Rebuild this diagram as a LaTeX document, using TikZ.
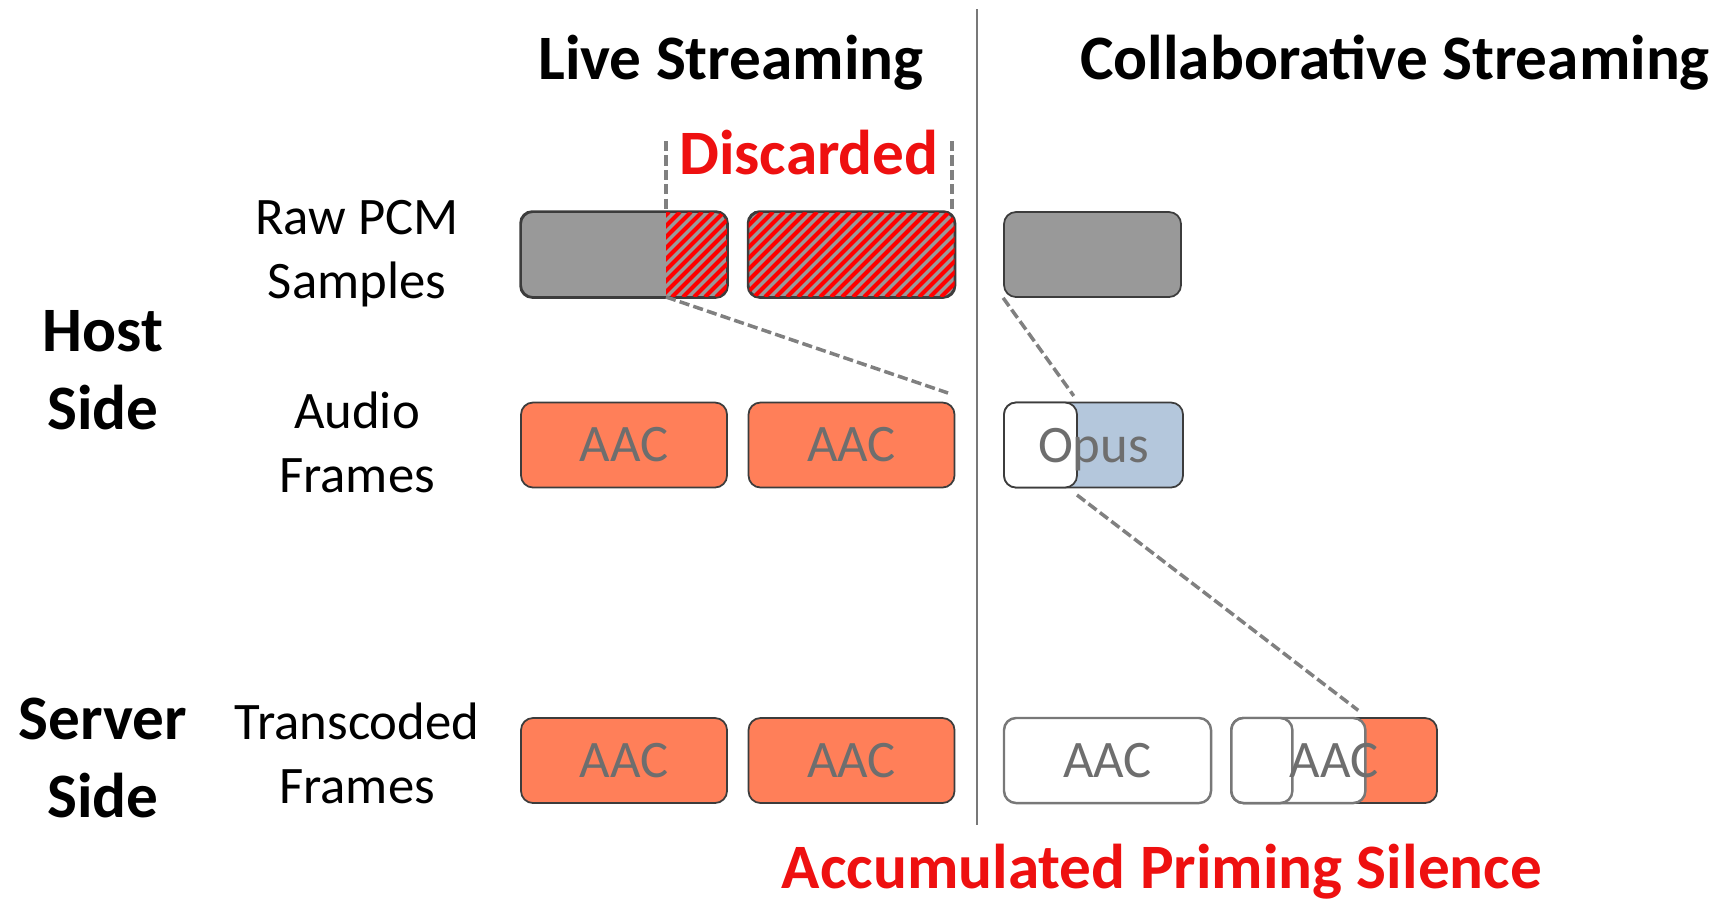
\documentclass[tikz,border=0pt]{standalone}
\usepackage{fontspec}
\setmainfont{Carlito}
\usetikzlibrary{positioning}
\definecolor{boxgray}{RGB}{153,153,153}
\definecolor{aacorange}{RGB}{255,127,89}
\definecolor{opusblue}{RGB}{180,199,220}
\definecolor{alertred}{RGB}{238,16,16}
\definecolor{stripered}{RGB}{255,0,0}
\definecolor{dashgray}{RGB}{128,128,128}
\definecolor{textgray}{RGB}{110,110,110}
\definecolor{edgedark}{RGB}{60,60,60}
\definecolor{edgegray}{RGB}{120,120,120}

\begin{document}
\begin{tikzpicture}[
  frame/.style={draw=edgedark, line width=0.5pt, rounded corners=0.12cm, minimum height=0.85cm, inner sep=0pt, text=textgray, font=\fontsize{15}{18}\selectfont},
  pcm/.style={frame, fill=boxgray, minimum width=2.06cm},
  aac/.style={frame, fill=aacorange, minimum width=2.06cm},
  blank/.style={frame, fill=white, draw=edgegray, line width=0.7pt},
  boxtext/.style={text=textgray, text depth=0pt, font=\fontsize{15}{18}\selectfont},
  guide/.style={dashgray, line width=1pt, dash pattern=on 2.9pt off 1.2pt},
  stripe/.style={stripered, line width=1.15pt},
  rowlabel/.style={align=center, font=\fontsize{15}{18.2}\selectfont},
  sidelabel/.style={align=center, font=\bfseries\fontsize{18}{22.3}\selectfont},
  heading/.style={anchor=base, font=\bfseries\fontsize{18}{21.6}\selectfont},
  alert/.style={heading, text=alertred}]
  \useasboundingbox (0,0) rectangle (17.21,-9.00);

  \node[heading] (live) at (7.31,-0.79) {Live Streaming};
  \node[heading] (collab) at (13.95,-0.79) {Collaborative Streaming};
  \coordinate (divtop) at (9.77,-0.09);
  \coordinate (divbot) at (9.77,-8.25);
  \draw[edgegray, line width=0.6pt] (divtop) -- (divbot);

  \node[sidelabel] (host) at (1.03,-3.70) {Host\\Side};
  \node[sidelabel] (server) at (1.03,-7.58) {Server\\Side};
  \node[rowlabel] (pcmlbl) at (3.57,-2.535) {Raw PCM\\Samples};
  \node[rowlabel] (frmlbl) at (3.57,-4.42) {Audio\\Frames};
  \node[rowlabel] (tclbl) at (3.57,-7.535) {Transcoded\\Frames};

  % raw samples, live side with the discarded tail
  \node[pcm] (pcm1) at (6.24,-2.545) {};
  \node[pcm] (pcm2) at (8.515,-2.545) {};
  \begin{scope}
    \clip[rounded corners=0.12cm] (pcm1.south west) rectangle (pcm1.north east);
    \clip (6.66,-2) rectangle (7.5,-3.1);
    \foreach \x in {5.51,5.62,...,7.4} \draw[stripe] (\x,-2.97) -- ++(0.85,0.85);
  \end{scope}
  \begin{scope}
    \clip[rounded corners=0.12cm] (pcm2.south west) rectangle (pcm2.north east);
    \foreach \x in {6.55,6.66,...,9.6} \draw[stripe] (\x,-2.97) -- ++(0.85,0.85);
  \end{scope}
  \draw[edgedark, line width=0.5pt, rounded corners=0.12cm] (pcm1.south west) rectangle (pcm1.north east);
  \draw[edgedark, line width=0.5pt, rounded corners=0.12cm] (pcm2.south west) rectangle (pcm2.north east);
  \node[pcm, minimum width=1.77cm] (pcm3) at (10.925,-2.545) {};

  \node[alert] (disc) at (8.09,-1.74) {Discarded};
  \coordinate (cuttop) at (6.66,-1.41);
  \coordinate (cut) at (6.66,-2.12);
  \coordinate (cutbot) at (6.66,-2.97);
  \coordinate (endtop) at (9.52,-1.41);
  \coordinate (end) at (9.52,-2.11);
  \draw[guide] (cuttop) -- (cut);
  \draw[guide] (endtop) -- (end);

  % encoded frames
  \node[aac] (aac1) at (6.24,-4.45) {AAC};
  \node[aac] (aac2) at (8.515,-4.45) {AAC};
  \node[frame, fill=opusblue, minimum width=1.79cm] (opus) at (10.935,-4.45) {};
  \node[frame, fill=white, minimum width=0.73cm, anchor=west] (opusw) at (opus.west) {};
  \node[boxtext] (opustxt) at (opus) {Opus};

  % transcoded frames
  \node[aac] (tc1) at (6.24,-7.605) {AAC};
  \node[aac] (tc2) at (8.515,-7.605) {AAC};
  \node[blank, minimum width=2.07cm] (tc3) at (11.075,-7.605) {AAC};
  \node[aac] (tc4) at (13.34,-7.605) {};
  \node[blank, minimum width=1.34cm, anchor=west] (tc4w) at (tc4.west) {};
  \node[blank, minimum width=0.61cm, anchor=west] (tc4s) at (tc4.west) {};
  \node[boxtext] (tc4txt) at (tc4) {AAC};

  \coordinate (aacmark) at (9.48,-3.93);
  \coordinate (opusgap) at (10.77,-4.95);
  \draw[guide] (cutbot) -- (aacmark);
  \draw[guide, shorten >=2pt] (pcm3.south west) -- (opusw.north east);
  \draw[guide, shorten >=3pt] (opusgap) -- (tc4w.north east);

  \node[alert] (prime) at (11.62,-8.88) {Accumulated Priming Silence};
\end{tikzpicture}
\end{document}
